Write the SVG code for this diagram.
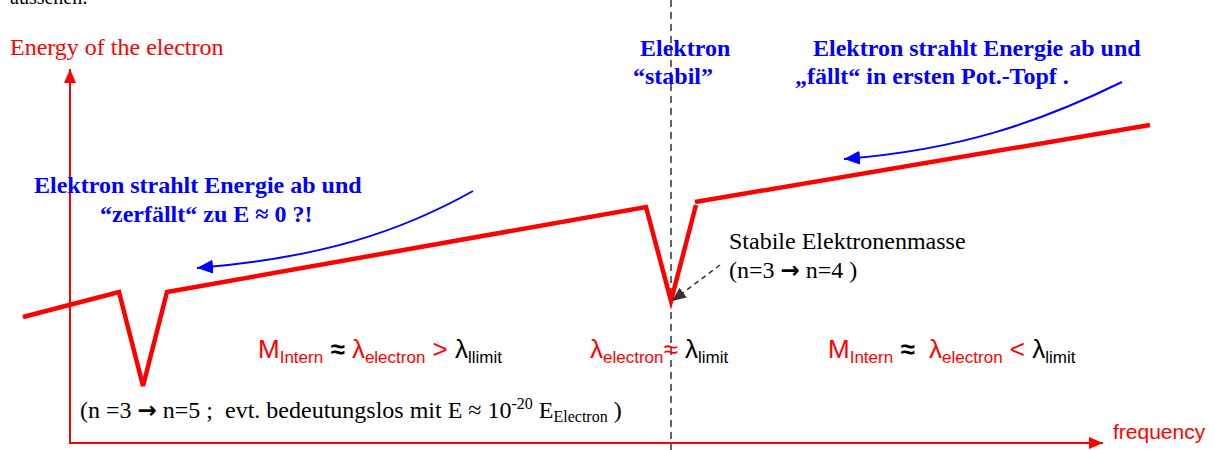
<svg xmlns="http://www.w3.org/2000/svg" width="1215" height="450" viewBox="0 0 1215 450">
<style>
.serif{font-family:"Liberation Serif","Times New Roman",serif}
.sans{font-family:"Liberation Sans",Arial,sans-serif}
.blue{fill:#0000ff;font-weight:bold;font-size:24px}
.red{fill:#ff0000}
.blk{fill:#000}
.curve{fill:none;stroke:#ff0000;stroke-width:4.5;stroke-linejoin:miter}
.axis{fill:none;stroke:#ff0000;stroke-width:2}
.barrow{fill:none;stroke:#0000ff;stroke-width:2}
.formula{font-size:26px}
.sub{font-size:17px}
.arr{font-family:"DejaVu Sans",sans-serif;font-weight:bold;font-size:23px}
</style>
<defs>
<marker id="redhead" markerWidth="14" markerHeight="12" refX="14" refY="6" orient="auto" markerUnits="userSpaceOnUse">
<path d="M0,0 L14,6 L0,12 Z" fill="#ff0000"/>
</marker>
<marker id="bluehead" markerWidth="16" markerHeight="14" refX="16" refY="7" orient="auto" markerUnits="userSpaceOnUse">
<path d="M0,0 L16,7 L0,14 Z" fill="#0000ff"/>
</marker>
<marker id="grayhead" markerWidth="14" markerHeight="12" refX="14" refY="6" orient="auto" markerUnits="userSpaceOnUse">
<path d="M0,0 L14,6 L0,12 Z" fill="#333"/>
</marker>
</defs>

<text class="serif blk" x="10" y="4" font-size="20">aussehen:</text>

<g id="axes">
<line class="axis" x1="70" y1="444" x2="70" y2="69" marker-end="url(#redhead)"/>
<line class="axis" x1="69" y1="443" x2="1103" y2="443" marker-end="url(#redhead)"/>
<text class="serif red" x="10" y="55" font-size="24">Energy of the electron</text>
<text class="sans red" x="1113" y="439" font-size="21">frequency</text>
</g>

<g id="divider">
<line x1="671" y1="0" x2="671" y2="450" stroke="#333" stroke-width="1.5" stroke-dasharray="7,5"/>
</g>

<g id="energy-curve">
<polyline class="curve" points="23,317 119,292 143,386 167,292 646,207 671,301 696,205"/>
<line class="curve" x1="695" y1="202" x2="1150" y2="125"/>
</g>

<g id="connectors">
<path class="barrow" d="M473,191 C400,232 320,258 197,268" marker-end="url(#bluehead)"/>
<path class="barrow" d="M1122,82 C1040,122 960,150 844,159" marker-end="url(#bluehead)"/>
<line x1="720" y1="265" x2="672" y2="301" stroke="#333" stroke-width="1.5" stroke-dasharray="5,4" marker-end="url(#grayhead)"/>
</g>

<g id="label-left">
<text class="serif blue" x="34" y="193">Elektron strahlt Energie ab und</text>
<text class="serif blue" x="100" y="222">“zerfällt“ zu E ≈ 0 ?!</text>
</g>

<g id="label-stable">
<text class="serif blue" x="640" y="56">Elektron</text>
<text class="serif blue" x="633" y="84">“stabil”</text>
</g>

<g id="label-right">
<text class="serif blue" x="813" y="56">Elektron strahlt Energie ab und</text>
<text class="serif blue" x="795" y="84">„fällt“ in ersten Pot.-Topf .</text>
</g>

<g id="label-mass">
<text class="serif blk" x="729" y="249" font-size="24">Stabile Elektronenmasse</text>
<text class="serif blk" x="729" y="278" font-size="24" xml:space="preserve">(n=3 <tspan class="arr">→</tspan> n=4 )</text>
</g>

<g id="formula-left">
<text class="sans formula" x="258" y="358" xml:space="preserve"><tspan class="red">M</tspan><tspan class="red sub" dy="5">Intern</tspan><tspan class="blk" dy="-5" font-weight="bold"> ≈ </tspan><tspan class="red">λ</tspan><tspan class="red sub" dy="5">electron</tspan><tspan class="red" dy="-5"> &gt; </tspan><tspan class="blk">λ</tspan><tspan class="blk sub" dy="5">llimit</tspan></text>
</g>

<g id="formula-mid">
<text class="sans formula" x="590" y="358" xml:space="preserve"><tspan class="red">λ</tspan><tspan class="red sub" dy="5">electron</tspan><tspan class="red" dy="-5">≈</tspan><tspan class="blk"> λ</tspan><tspan class="blk sub" dy="5">limit</tspan></text>
</g>

<g id="formula-right">
<text class="sans formula" x="828" y="358" xml:space="preserve"><tspan class="red">M</tspan><tspan class="red sub" dy="5">Intern</tspan><tspan class="blk" dy="-5" font-weight="bold"> ≈  </tspan><tspan class="red">λ</tspan><tspan class="red sub" dy="5">electron</tspan><tspan class="red" dy="-5"> &lt; </tspan><tspan class="blk">λ</tspan><tspan class="blk sub" dy="5">limit</tspan></text>
</g>

<g id="label-bottom">
<text class="serif blk" x="80" y="418" font-size="24" xml:space="preserve">(n =3 <tspan class="arr">→</tspan> n=5 ;  evt. bedeutungslos mit E ≈ 10<tspan font-size="16" dy="-9">-20</tspan><tspan dy="9"> E</tspan><tspan font-size="16" dy="4">Electron</tspan><tspan dy="-4"> )</tspan></text>
</g>
</svg>
